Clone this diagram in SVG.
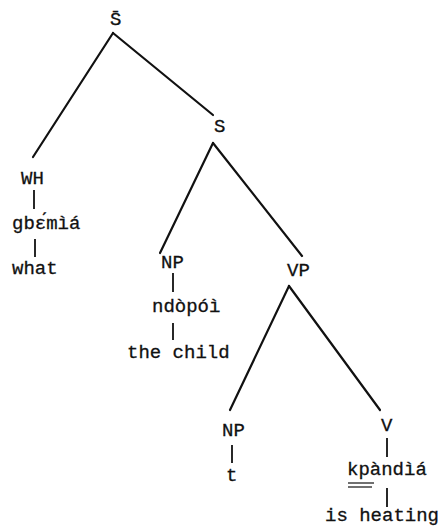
<svg xmlns="http://www.w3.org/2000/svg" width="443" height="526" viewBox="0 0 443 526">
<style>
text{font-family:"Liberation Mono","DejaVu Sans Mono",monospace;font-size:19px;fill:#111;stroke:#111;stroke-width:0.3}
.e{stroke:#111;stroke-width:2.2;stroke-linecap:round;fill:none}
.t{stroke:#111;stroke-width:1.8;fill:none}
.u{stroke:#111;stroke-width:1.2;fill:none}
</style>
<rect width="443" height="526" fill="#fff"/>
<g id="connectors">
<line class="e" x1="113" y1="33" x2="33" y2="157"/>
<line class="e" x1="113" y1="33" x2="213" y2="115"/>
<line class="e" x1="213" y1="143" x2="160" y2="253"/>
<line class="e" x1="213" y1="143" x2="302" y2="256"/>
<line class="e" x1="289" y1="286" x2="230" y2="410"/>
<line class="e" x1="289" y1="286" x2="380" y2="410"/>
<line class="t" x1="34" y1="190" x2="34" y2="209"/>
<line class="t" x1="35" y1="239" x2="35" y2="257"/>
<line class="t" x1="173" y1="273" x2="173" y2="292"/>
<line class="t" x1="173" y1="323" x2="173" y2="340"/>
<line class="t" x1="232" y1="445" x2="232" y2="463"/>
<line class="t" x1="387" y1="438" x2="387" y2="457"/>
<line class="t" x1="387" y1="488" x2="387" y2="507"/>
</g>
<g id="n-sbar"><text x="110" y="25">S̄</text></g>
<g id="n-s"><text x="214" y="132">S</text></g>
<g id="n-wh"><text x="21" y="184">WH</text></g>
<g id="n-gbemia"><text x="12" y="229">gbɛ́mìá</text></g>
<g id="n-what"><text x="12" y="274">what</text></g>
<g id="n-np1"><text x="161" y="268">NP</text></g>
<g id="n-ndopoi"><text x="152" y="312">ndòpóì</text></g>
<g id="n-thechild"><text x="127" y="358">the child</text></g>
<g id="n-vp"><text x="287" y="276">VP</text></g>
<g id="n-np2"><text x="222" y="436">NP</text></g>
<g id="n-t"><text x="226" y="481">t</text></g>
<g id="n-v"><text x="381" y="431">V</text></g>
<g id="n-kpandia"><text x="347" y="475">kpàndìá</text>
<line class="u" x1="348" y1="483" x2="374" y2="483"/>
<line class="u" x1="348" y1="487" x2="372" y2="487"/></g>
<g id="n-isheating"><text x="325" y="521">is heating</text></g>
</svg>
